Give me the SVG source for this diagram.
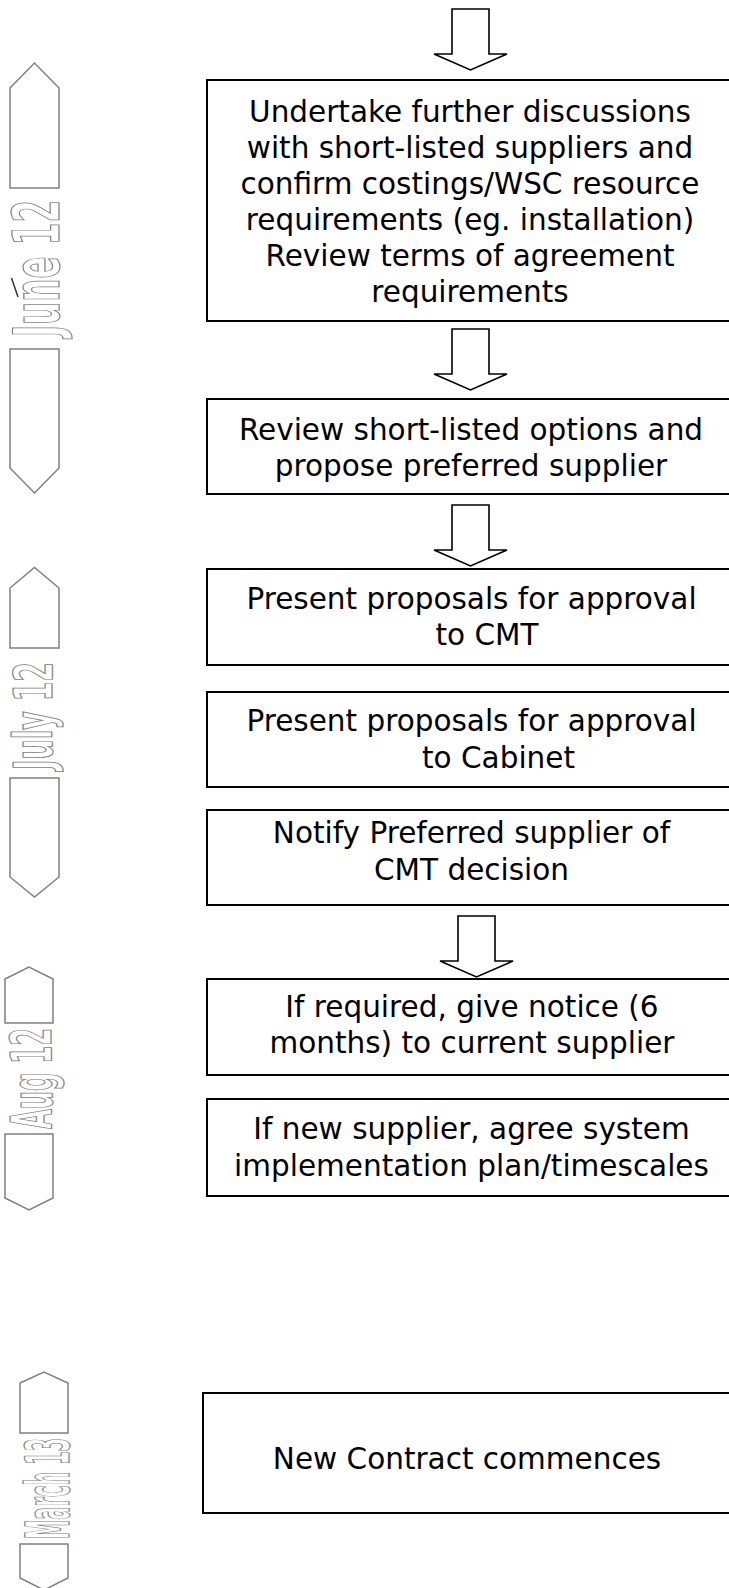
<svg xmlns="http://www.w3.org/2000/svg" width="729" height="1588" viewBox="0 0 729 1588">
  <style>
    .box { fill: #ffffff; stroke: #000000; stroke-width: 2; }
    .arrow { fill: #ffffff; stroke: #000000; stroke-width: 1.6; stroke-linejoin: miter; }
    .lbl { font-family: "DejaVu Sans", Verdana, sans-serif; font-size: 29.5px; fill: #000000; text-anchor: middle; }
    .tab { fill: #ffffff; stroke: #808080; stroke-width: 1.5; stroke-linejoin: miter; }
    .month { font-family: "DejaVu Sans Condensed", "DejaVu Sans", sans-serif; font-weight: bold; fill: #ffffff; stroke: #808080; stroke-width: 1.2; }
  </style>
  <rect width="729" height="1588" fill="#ffffff"/>

  <!-- timeline markers on the left -->
  <g id="month-june">
    <polygon class="tab" points="10,88 34.5,63 59,88 59,188 10,188"/>
    <text class="month" font-size="64" textLength="137" lengthAdjust="spacingAndGlyphs" transform="translate(59,337) rotate(-90)">June 12</text>
    <line x1="11.5" y1="278" x2="18" y2="297" stroke="#333333" stroke-width="1.5"/>
    <polygon class="tab" points="10,349 59,349 59,468 34.5,493 10,468"/>
  </g>
  <g id="month-july">
    <polygon class="tab" points="10,588 34.5,567.5 59,588 59,648 10,648"/>
    <text class="month" font-size="53" textLength="108" lengthAdjust="spacingAndGlyphs" transform="translate(52,770) rotate(-90)">July 12</text>
    <polygon class="tab" points="10,778 59,778 59,877 34.5,897 10,877"/>
  </g>
  <g id="month-aug">
    <polygon class="tab" points="5,979 29,967 53,979 53,1023 5,1023"/>
    <text class="month" font-size="57" textLength="101" lengthAdjust="spacingAndGlyphs" transform="translate(52,1129) rotate(-90)">Aug 12</text>
    <polygon class="tab" points="5,1134 53,1134 53,1198 29,1210 5,1198"/>
  </g>
  <g id="month-march">
    <polygon class="tab" points="20,1383 44,1372 68,1383 68,1433 20,1433"/>
    <text class="month" font-size="60" textLength="101" lengthAdjust="spacingAndGlyphs" transform="translate(69,1539) rotate(-90)">March 13</text>
    <polygon class="tab" points="20,1544 68,1544 68,1578 44,1590 20,1578"/>
  </g>

  <!-- block arrows between steps -->
  <g id="connectors">
    <polygon class="arrow" points="452,9 489,9 489,54 507,54 470.5,70 434,54 452,54"/>
    <polygon class="arrow" points="452,329 489,329 489,374 507,374 470.5,390 434,374 452,374"/>
    <polygon class="arrow" points="452,505 489,505 489,550 507,550 470.5,566 434,550 452,550"/>
    <polygon class="arrow" points="458,916 495,916 495,961 513,961 476.5,977 440,961 458,961"/>
  </g>

  <!-- process steps -->
  <g id="step-discussions">
    <rect class="box" x="207" y="80" width="540" height="241"/>
    <text class="lbl" x="470" y="121.5">Undertake further discussions</text>
    <text class="lbl" x="470" y="157.5">with short-listed suppliers and</text>
    <text class="lbl" x="470" y="193.5">confirm costings/WSC resource</text>
    <text class="lbl" x="470" y="229.5">requirements (eg. installation)</text>
    <text class="lbl" x="470" y="265.5">Review terms of agreement</text>
    <text class="lbl" x="470" y="301.5">requirements</text>
  </g>
  <g id="step-review">
    <rect class="box" x="207" y="399" width="540" height="95"/>
    <text class="lbl" x="471" y="440">Review short-listed options and</text>
    <text class="lbl" x="471" y="476">propose preferred supplier</text>
  </g>
  <g id="step-cmt">
    <rect class="box" x="207" y="569" width="540" height="96"/>
    <text class="lbl" x="471.5" y="608.5">Present proposals for approval</text>
    <text class="lbl" x="487" y="645">to CMT</text>
  </g>
  <g id="step-cabinet">
    <rect class="box" x="207" y="692" width="540" height="95"/>
    <text class="lbl" x="471.5" y="731">Present proposals for approval</text>
    <text class="lbl" x="498.5" y="767.5">to Cabinet</text>
  </g>
  <g id="step-notify">
    <rect class="box" x="207" y="810" width="540" height="95"/>
    <text class="lbl" x="471.5" y="843">Notify Preferred supplier of</text>
    <text class="lbl" x="471.5" y="879.5">CMT decision</text>
  </g>
  <g id="step-notice">
    <rect class="box" x="207" y="979" width="540" height="96"/>
    <text class="lbl" x="472" y="1016.5">If required, give notice (6</text>
    <text class="lbl" x="472" y="1053">months) to current supplier</text>
  </g>
  <g id="step-implementation">
    <rect class="box" x="207" y="1099" width="540" height="97"/>
    <text class="lbl" x="471.5" y="1139">If new supplier, agree system</text>
    <text class="lbl" x="471.5" y="1175.5">implementation plan/timescales</text>
  </g>
  <g id="step-contract">
    <rect class="box" x="203" y="1393" width="544" height="120" stroke-width="2.4"/>
    <text class="lbl" x="467" y="1469">New Contract commences</text>
  </g>
</svg>
